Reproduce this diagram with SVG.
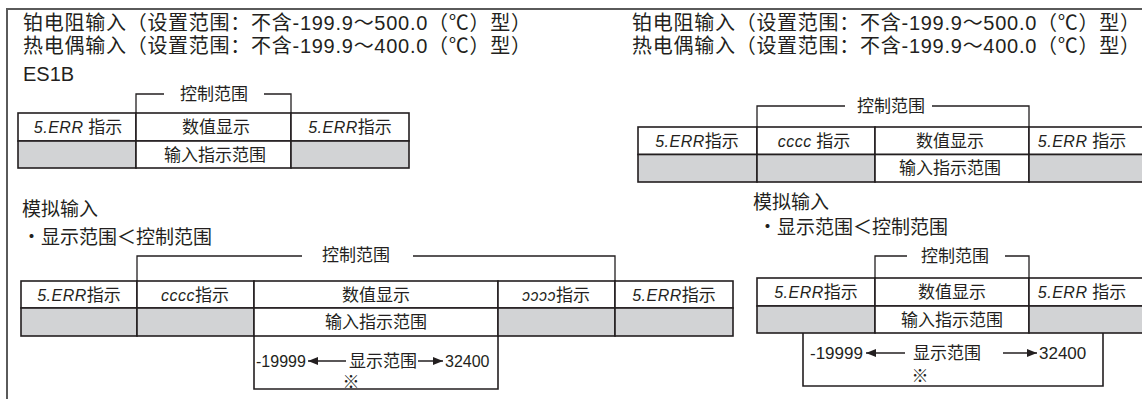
<svg xmlns="http://www.w3.org/2000/svg" width="1142" height="399" viewBox="0 0 1142 399">
<defs>
<style>
.frame{fill:none;stroke:#5a5a5a;stroke-width:2}
.c{fill:#fff;stroke:#231f20;stroke-width:1.6}
.g{fill:#d2d3d5;stroke:#231f20;stroke-width:1.6}
.bx{fill:none;stroke:#231f20;stroke-width:1.6}
.br{fill:none;stroke:#231f20;stroke-width:1.3}
.h{font-family:"Liberation Sans","Noto Sans CJK SC",sans-serif;font-size:19px;fill:#231f20}
.t{font-family:"Liberation Sans","Noto Sans CJK SC",sans-serif;font-size:17px;fill:#231f20;text-anchor:middle}
.s{font-family:"Liberation Sans","Noto Sans CJK SC",sans-serif;font-size:17px;fill:#231f20}
.k{font-family:"Noto Sans CJK SC",sans-serif;font-size:17px;fill:#231f20;text-anchor:middle}
.seg{font-family:"Liberation Sans","DejaVu Sans",sans-serif;font-style:italic;font-size:16px;letter-spacing:0.5px}
.arr{fill:none;stroke:#231f20;stroke-width:1.5}
</style>
<marker id="ah" markerUnits="userSpaceOnUse" markerWidth="11" markerHeight="8" refX="10" refY="4" orient="auto">
<path d="M0,0 L10,4 L0,8 z" fill="#231f20"/>
</marker>
</defs>
<rect width="1142" height="399" fill="#fff"/>
<g id="frame">
<path class="frame" d="M7,399 V9 H1142"/>
</g>
<g id="headings">
<text class="h" x="23" y="30" style="font-size:20px" textLength="508" lengthAdjust="spacing">铂电阻输入（设置范围：不含-199.9～500.0（℃）型）</text>
<text class="h" x="23" y="53" style="font-size:20px" textLength="508" lengthAdjust="spacing">热电偶输入（设置范围：不含-199.9～400.0（℃）型）</text>
<text class="h" x="23" y="81" style="font-size:20px">ES1B</text>
<text class="h" x="632" y="30" style="font-size:20px" textLength="508" lengthAdjust="spacing">铂电阻输入（设置范围：不含-199.9～500.0（℃）型）</text>
<text class="h" x="632" y="53" style="font-size:20px" textLength="508" lengthAdjust="spacing">热电偶输入（设置范围：不含-199.9～400.0（℃）型）</text>
<text class="h" x="22" y="216">模拟输入</text>
<text class="h" x="22" y="244">・显示范围＜控制范围</text>
<text class="h" x="753" y="209">模拟输入</text>
<text class="h" x="758" y="234">・显示范围＜控制范围</text>
</g>
<g id="table-es1b">
<rect class="c" x="18" y="113" width="118" height="28"/>
<rect class="c" x="136" y="113" width="155" height="28"/>
<rect class="c" x="291" y="113" width="118" height="28"/>
<rect class="g" x="18" y="141" width="118" height="27"/>
<rect class="c" x="136" y="141" width="155" height="27"/>
<rect class="g" x="291" y="141" width="118" height="27"/>
<text class="t" x="214" y="100">控制范围</text>
<text class="t" x="78" y="133"><tspan class="seg">5.ERR</tspan> 指示</text>
<text class="t" x="216" y="133">数值显示</text>
<text class="t" x="350" y="133"><tspan class="seg">5.ERR</tspan>指示</text>
<text class="t" x="215" y="160.5">输入指示范围</text>
</g>
<g id="table-top-right">
<rect class="c" x="638" y="127" width="119" height="27.5"/>
<rect class="c" x="757" y="127" width="118" height="27.5"/>
<rect class="c" x="875" y="127" width="154" height="27.5"/>
<rect class="c" x="1029" y="127" width="125" height="27.5"/>
<rect class="g" x="638" y="154.5" width="119" height="27.5"/>
<rect class="g" x="757" y="154.5" width="118" height="27.5"/>
<rect class="c" x="875" y="154.5" width="154" height="27.5"/>
<rect class="g" x="1029" y="154.5" width="125" height="27.5"/>
<text class="t" x="891" y="112">控制范围</text>
<text class="t" x="697" y="147"><tspan class="seg">5.ERR</tspan>指示</text>
<text class="t" x="814" y="147"><tspan class="seg">cccc</tspan> 指示</text>
<text class="t" x="950" y="147">数值显示</text>
<text class="t" x="1082" y="147"><tspan class="seg">5.ERR</tspan> 指示</text>
<text class="t" x="950" y="174">输入指示范围</text>
</g>
<g id="table-analog-left">
<rect class="c" x="21" y="281" width="116" height="27"/>
<rect class="c" x="137" y="281" width="117" height="27"/>
<rect class="c" x="254" y="281" width="244" height="27"/>
<rect class="c" x="498" y="281" width="117" height="27"/>
<rect class="c" x="615" y="281" width="118" height="27"/>
<rect class="g" x="21" y="308" width="116" height="28"/>
<rect class="g" x="137" y="308" width="117" height="28"/>
<rect class="c" x="254" y="308" width="244" height="28"/>
<rect class="g" x="498" y="308" width="117" height="28"/>
<rect class="g" x="615" y="308" width="118" height="28"/>
<path class="bx" d="M254,336 V389 H498 V336"/>
<text class="t" x="356" y="261">控制范围</text>
<text class="t" x="79" y="300.5"><tspan class="seg">5.ERR</tspan>指示</text>
<text class="t" x="195" y="300.5"><tspan class="seg">cccc</tspan>指示</text>
<text class="t" x="376" y="300.5">数值显示</text>
<text class="t" x="556" y="300.5"><tspan class="seg">ɔɔɔɔ</tspan>指示</text>
<text class="t" x="674" y="300.5"><tspan class="seg">5.ERR</tspan>指示</text>
<text class="t" x="376" y="328">输入指示范围</text>
<text class="s" x="256" y="367" style="font-size:16px">-19999</text>
<text class="s" x="349" y="367">显示范围</text>
<text class="s" x="445" y="367" style="font-size:16px">32400</text>
<text class="k" x="351" y="388">※</text>
</g>
<g id="table-analog-right">
<rect class="c" x="757" y="278" width="118" height="28"/>
<rect class="c" x="875" y="278" width="154" height="28"/>
<rect class="c" x="1029" y="278" width="125" height="28"/>
<rect class="g" x="757" y="306" width="118" height="27"/>
<rect class="c" x="875" y="306" width="154" height="27"/>
<rect class="g" x="1029" y="306" width="125" height="27"/>
<path class="bx" d="M803,333 V386 H1103 V333"/>
<text class="t" x="955" y="262">控制范围</text>
<text class="t" x="816" y="298"><tspan class="seg">5.ERR</tspan>指示</text>
<text class="t" x="952" y="298">数值显示</text>
<text class="t" x="1082" y="298"><tspan class="seg">5.ERR</tspan> 指示</text>
<text class="t" x="952" y="325.5">输入指示范围</text>
<text class="s" x="810" y="359">-19999</text>
<text class="s" x="913" y="359">显示范围</text>
<text class="s" x="1039" y="359">32400</text>
<text class="k" x="920" y="382">※</text>
</g>
<g id="connectors">
<path class="br" d="M136,113 V94 H164 M264,94 H291 V113"/>
<path class="br" d="M757,127 V106 H845 M932,106 H1029 V127"/>
<path class="br" d="M137,281 V256 H302 M413,256 H615 V281"/>
<path class="br" d="M875,278 V256 H907 M1005,256 H1029 V278"/>
<line class="arr" x1="346" y1="361" x2="308" y2="361" marker-end="url(#ah)"/>
<line class="arr" x1="418" y1="361" x2="443" y2="361" marker-end="url(#ah)"/>
<line class="arr" x1="905" y1="353" x2="866" y2="353" marker-end="url(#ah)"/>
<line class="arr" x1="1003" y1="353" x2="1037" y2="353" marker-end="url(#ah)"/>
</g>
</svg>
